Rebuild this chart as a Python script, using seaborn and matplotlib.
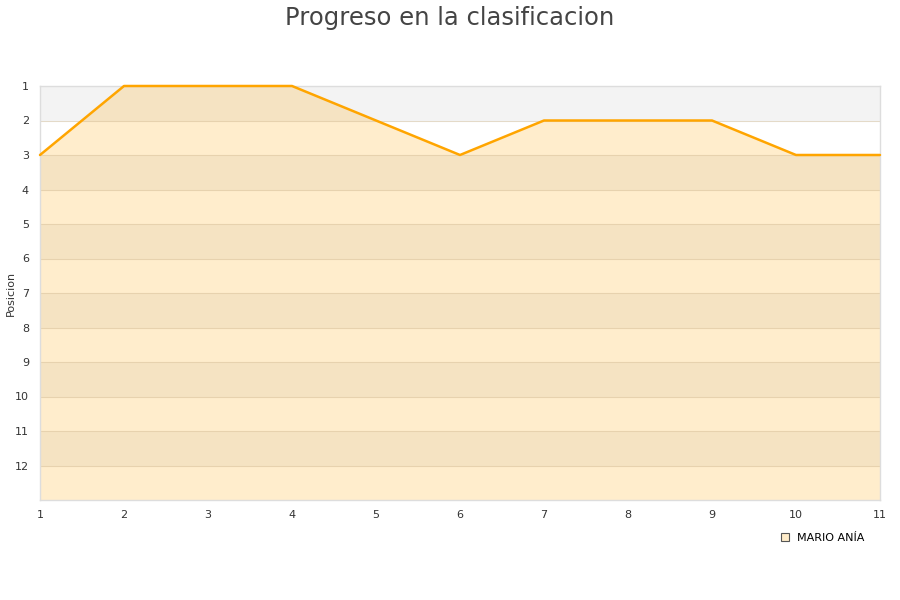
import matplotlib.pyplot as plt
import seaborn as sns
import pandas as pd
import numpy as np

# Data
jornadas = [1, 2, 3, 4, 5, 6, 7, 8, 9, 10, 11]
posiciones = [3, 1, 1, 1, 2, 3, 2, 2, 2, 3, 3]
jugador = 'MARIO ANÍA'

df = pd.DataFrame({'Jornada': jornadas, 'Posicion': posiciones})

sns.set_style('white')
plt.rcParams['font.family'] = ['DejaVu Sans']

fig = plt.figure(figsize=(9, 6), dpi=100)
ax = fig.add_axes([40 / 900, 100 / 600, 840 / 900, 414 / 600])

# alternating background bands
for y0 in range(1, 13, 2):
    ax.axhspan(y0, y0 + 1, color='#f3f3f3', zorder=0, lw=0)
for y in range(2, 13):
    ax.axhline(y, color='#e2e2e2', lw=0.8, zorder=0.5)

# area under the line
ax.fill_between(df['Jornada'], df['Posicion'], 13, color='#ffa500', alpha=0.2, lw=0, zorder=1)
for y in range(2, 13):
    ax.plot([1, 11], [y, y], color='#e8cfa6', lw=0.6, alpha=0.5, zorder=1.5)

sns.lineplot(data=df, x='Jornada', y='Posicion', color='#ffa500', lw=1.8, ax=ax, zorder=3, clip_on=False)

ax.set_xlim(1, 11)
ax.set_ylim(13, 1)
ax.set_xticks(jornadas)
ax.set_yticks(range(1, 13))
ax.tick_params(axis='both', length=0, labelsize=8, colors='#333333')
ax.tick_params(axis='x', pad=7)
ax.tick_params(axis='y', pad=8)
ax.set_xlabel('')
ax.set_ylabel('')
fig.text(11 / 900, 1 - 293 / 600, 'Posicion', rotation=90, fontsize=8, color='#333333',
         ha='center', va='center')
for s in ax.spines.values():
    s.set_color('#dddddd')
    s.set_linewidth(1)

fig.suptitle('Progreso en la clasificacion', y=0.99, fontsize=17.5, color='#444444')

handle = plt.Line2D([], [], marker='s', ls='', markersize=6, markerfacecolor='#ffecc9',
                    markeredgecolor='#555555', markeredgewidth=0.8)
fig.legend([handle], [jugador], loc='center right', bbox_to_anchor=(0.972, 0.103),
           frameon=False, fontsize=8, handletextpad=0.6, handlelength=1, labelcolor='black')

fig.savefig('out.png', dpi=100)
